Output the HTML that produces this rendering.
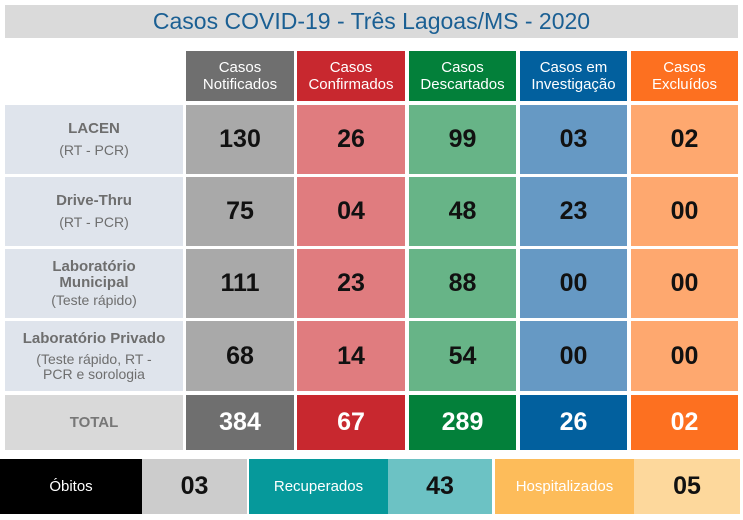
<!DOCTYPE html>
<html><head><meta charset="utf-8"><style>
body{margin:0;width:743px;height:520px;background:#fff;position:relative;overflow:hidden;font-family:"Liberation Sans",sans-serif}
.b{position:absolute;display:flex;align-items:center;justify-content:center;text-align:center;box-sizing:border-box}
.h{color:#fff;font-size:15px;line-height:17px}
.n{font-size:25px;font-weight:bold;color:#111}
.t{font-size:25px;font-weight:bold;color:#fff}
.l{background:#dfe4ec;color:#6e6e6e;font-size:14px;line-height:18px;flex-direction:column}
.l b{font-size:15px}
</style></head><body>
<div class="b" style="left:5px;top:5px;width:733px;height:33px;background:#dadada;color:#1a5f93;font-size:23px">Casos COVID-19 - Três Lagoas/MS - 2020</div>

<div class="b h" style="left:186px;top:51px;width:108px;height:50px;background:#6f6f6f">Casos<br>Notificados</div>
<div class="b h" style="left:297px;top:51px;width:108px;height:50px;background:#c8282f">Casos<br>Confirmados</div>
<div class="b h" style="left:409px;top:51px;width:107px;height:50px;background:#03803a">Casos<br>Descartados</div>
<div class="b h" style="left:520px;top:51px;width:107px;height:50px;background:#02609e">Casos em<br>Investigação</div>
<div class="b h" style="left:631px;top:51px;width:107px;height:50px;background:#fd7020">Casos<br>Excluídos</div>

<div class="b l" style="left:5px;top:105px;width:178px;height:69px"><b>LACEN</b><span style="margin-top:3px">(RT - PCR)</span></div>
<div class="b l" style="left:5px;top:177px;width:178px;height:69px"><b>Drive-Thru</b><span style="margin-top:3px">(RT - PCR)</span></div>
<div class="b l" style="left:5px;top:249px;width:178px;height:69px"><b style="line-height:16px">Laboratório<br>Municipal</b><span>(Teste rápido)</span></div>
<div class="b l" style="left:5px;top:321px;width:178px;height:70px"><b>Laboratório Privado</b><span style="margin-top:4px;line-height:15px">(Teste rápido, RT -<br>PCR e sorologia</span></div>

<div class="b n" style="left:186px;top:105px;width:108px;height:69px;background:#a9a9a9">130</div>
<div class="b n" style="left:297px;top:105px;width:108px;height:69px;background:#e07c7f">26</div>
<div class="b n" style="left:409px;top:105px;width:107px;height:69px;background:#67b487">99</div>
<div class="b n" style="left:520px;top:105px;width:107px;height:69px;background:#6699c4">03</div>
<div class="b n" style="left:631px;top:105px;width:107px;height:69px;background:#fea86f">02</div>

<div class="b n" style="left:186px;top:177px;width:108px;height:69px;background:#a9a9a9">75</div>
<div class="b n" style="left:297px;top:177px;width:108px;height:69px;background:#e07c7f">04</div>
<div class="b n" style="left:409px;top:177px;width:107px;height:69px;background:#67b487">48</div>
<div class="b n" style="left:520px;top:177px;width:107px;height:69px;background:#6699c4">23</div>
<div class="b n" style="left:631px;top:177px;width:107px;height:69px;background:#fea86f">00</div>

<div class="b n" style="left:186px;top:249px;width:108px;height:69px;background:#a9a9a9">111</div>
<div class="b n" style="left:297px;top:249px;width:108px;height:69px;background:#e07c7f">23</div>
<div class="b n" style="left:409px;top:249px;width:107px;height:69px;background:#67b487">88</div>
<div class="b n" style="left:520px;top:249px;width:107px;height:69px;background:#6699c4">00</div>
<div class="b n" style="left:631px;top:249px;width:107px;height:69px;background:#fea86f">00</div>

<div class="b n" style="left:186px;top:321px;width:108px;height:70px;background:#a9a9a9">68</div>
<div class="b n" style="left:297px;top:321px;width:108px;height:70px;background:#e07c7f">14</div>
<div class="b n" style="left:409px;top:321px;width:107px;height:70px;background:#67b487">54</div>
<div class="b n" style="left:520px;top:321px;width:107px;height:70px;background:#6699c4">00</div>
<div class="b n" style="left:631px;top:321px;width:107px;height:70px;background:#fea86f">00</div>

<div class="b" style="left:5px;top:395px;width:178px;height:55px;background:#d9d9d9;color:#777;font-weight:bold;font-size:15px">TOTAL</div>
<div class="b t" style="left:186px;top:395px;width:108px;height:55px;background:#6f6f6f">384</div>
<div class="b t" style="left:297px;top:395px;width:108px;height:55px;background:#c8282f">67</div>
<div class="b t" style="left:409px;top:395px;width:107px;height:55px;background:#03803a">289</div>
<div class="b t" style="left:520px;top:395px;width:107px;height:55px;background:#02609e">26</div>
<div class="b t" style="left:631px;top:395px;width:107px;height:55px;background:#fd7020">02</div>

<div class="b" style="left:0;top:459px;width:142px;height:55px;background:#000;color:#fff;font-size:15px">Óbitos</div>
<div class="b n" style="left:142px;top:459px;width:105px;height:55px;background:#cccccc">03</div>
<div class="b" style="left:249px;top:459px;width:139px;height:55px;background:#06999b;color:#fff;font-size:15px">Recuperados</div>
<div class="b n" style="left:388px;top:459px;width:104px;height:55px;background:#6cc2c4">43</div>
<div class="b" style="left:495px;top:459px;width:139px;height:55px;background:#fdbc5a;color:#fff;font-size:15px">Hospitalizados</div>
<div class="b n" style="left:634px;top:459px;width:106px;height:55px;background:#fdd89c">05</div>
</body></html>
